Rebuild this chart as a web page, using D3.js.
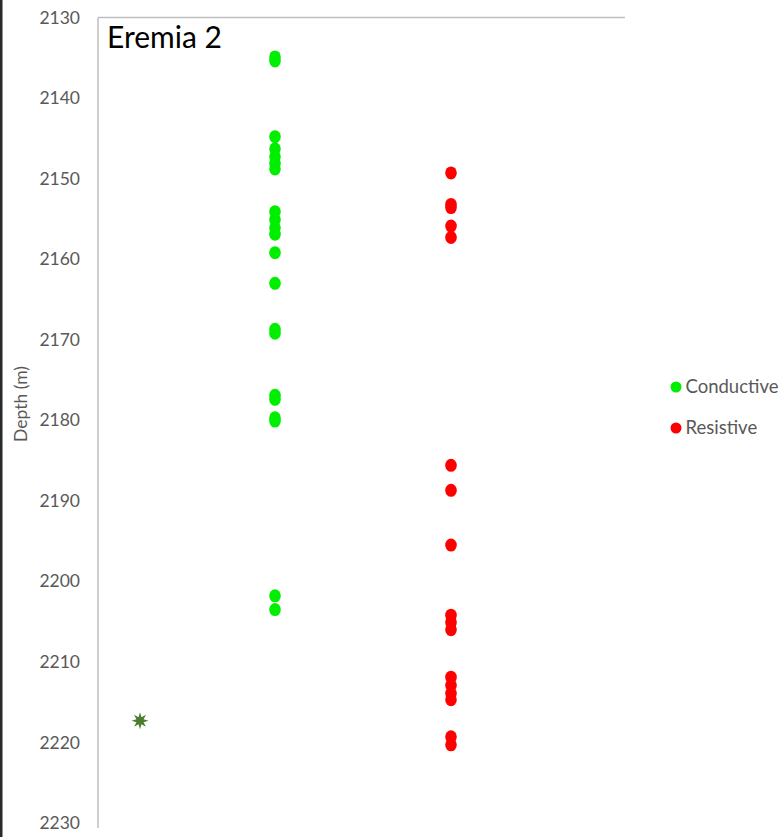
<!DOCTYPE html>
<html>
<head>
<meta charset="utf-8">
<script src="https://cdn.jsdelivr.net/npm/d3@7"></script>
<style>
  html, body { margin: 0; padding: 0; background: #fff; }
  svg { display: block; }
</style>
</head>
<body>
<svg id="chart" width="783" height="837"></svg>
<script>
// Well log picks for Eremia 2: depth (m) of conductive and resistive features
const conductiveDepths = [2134.9, 2135.4, 2144.8, 2146.3, 2147.3, 2148.1, 2148.8,
  2154.1, 2155.1, 2156.1, 2156.9, 2159.2, 2163.0, 2168.7, 2169.2,
  2176.9, 2177.4, 2179.7, 2180.1, 2201.8, 2203.5];
const resistiveDepths = [2149.3, 2153.2, 2153.6, 2155.9, 2157.3, 2185.6, 2188.7,
  2195.5, 2204.2, 2205.1, 2206.0, 2211.9, 2212.9, 2213.9, 2214.7, 2219.3, 2220.3];
const markerPoint = { x: 0.233, depth: 2217.3 };
const seriesX = { Conductive: 1, Resistive: 2 };
const depthTicks = [2130, 2140, 2150, 2160, 2170, 2180, 2190, 2200, 2210, 2220, 2230];
const legendItems = ["Conductive", "Resistive"];
const seriesColors = { Conductive: "#00ee00", Resistive: "#ff0000" };

(function () {
  const svg = d3.select("#chart");
  const pLeft = 98, pRight = 625, pTop = 17.5, pBottom = 823;

  const x = d3.scaleLinear().domain([0, 3]).range([99, 627]);
  const y = d3.scaleLinear().domain([2130, 2230]).range([pTop, pBottom]);

  // dark frame edge on the left
  svg.append("rect").attr("x", 0).attr("y", 0).attr("width", 2.5).attr("height", 837).attr("fill", "#2a2a2a");

  // top border of plot area
  svg.append("line")
    .attr("x1", pLeft).attr("x2", pRight)
    .attr("y1", pTop).attr("y2", pTop)
    .attr("stroke", "#bfbfbf").attr("stroke-width", 1.5);

  // depth axis
  const yAxis = d3.axisLeft(y).tickValues(depthTicks).tickFormat(d3.format("d")).tickSize(0).tickPadding(18);
  const ag = svg.append("g").attr("transform", `translate(${pLeft},0)`).call(yAxis);
  ag.select(".domain").attr("stroke", "#bfbfbf").attr("stroke-width", 1.5)
    .attr("d", `M0,${pTop}V${pBottom + 5}`);
  ag.selectAll("text")
    .attr("fill", "#595959")
    .style("font-family", "Lato, 'Open Sans', sans-serif")
    .style("font-size", "17.5px");

  // axis title
  svg.append("text")
    .attr("transform", `translate(27,404) rotate(-90)`)
    .attr("text-anchor", "middle")
    .attr("fill", "#595959")
    .style("font-family", "Lato, 'Open Sans', sans-serif")
    .style("font-size", "17.5px")
    .text("Depth (m)");

  // chart title inside plot area
  svg.append("text")
    .attr("x", 107).attr("y", 48)
    .attr("fill", "#000")
    .style("font-family", "Lato, 'Open Sans', sans-serif")
    .style("font-size", "30px")
    .text("Eremia 2");

  // points
  function drawSeries(name, depths) {
    svg.append("g").selectAll("ellipse").data(depths).join("ellipse")
      .attr("cx", x(seriesX[name]))
      .attr("cy", d => y(d))
      .attr("rx", 5.8).attr("ry", 6.5)
      .attr("fill", seriesColors[name]);
  }
  drawSeries("Conductive", conductiveDepths);
  drawSeries("Resistive", resistiveDepths);

  // eight-pointed star marker
  const star = d3.symbol().type({
    draw(ctx, size) {
      const R = Math.sqrt(size) * 0.6, r = R * 0.45;
      for (let i = 0; i < 16; i++) {
        const a = i * Math.PI / 8 - Math.PI / 2;
        const rad = i % 2 === 0 ? R : r;
        const px = Math.cos(a) * rad, py = Math.sin(a) * rad;
        if (i === 0) ctx.moveTo(px, py); else ctx.lineTo(px, py);
      }
      ctx.closePath();
    }
  }).size(200);
  svg.append("path")
    .attr("d", star())
    .attr("transform", `translate(${x(markerPoint.x)},${y(markerPoint.depth)})`)
    .attr("fill", "#4a7d2c");

  // legend
  const lg = svg.append("g");
  legendItems.forEach((name, i) => {
    const cy = 387 + i * 41;
    lg.append("circle").attr("cx", 676).attr("cy", cy).attr("r", 5.5).attr("fill", seriesColors[name]);
    lg.append("text").attr("x", 685.5).attr("y", cy + 6)
      .attr("fill", "#595959")
      .style("font-family", "Lato, 'Open Sans', sans-serif")
      .style("font-size", "18.5px")
      .text(name);
  });
})();
</script>
</body>
</html>
